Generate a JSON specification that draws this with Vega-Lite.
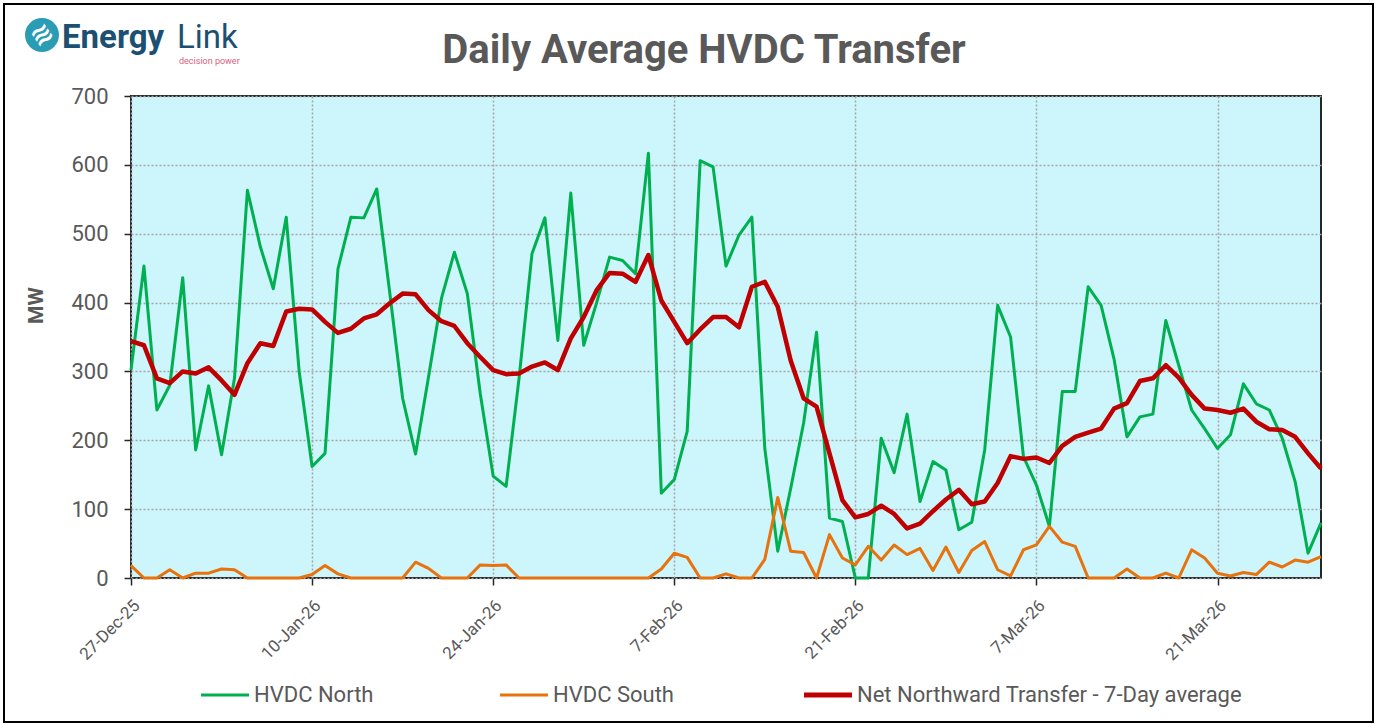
{
  "$schema": "https://vega.github.io/schema/vega-lite/v6.json",
  "width": 1190,
  "height": 482,
  "autosize": {"type": "none"},
  "padding": {"left": 131, "top": 96, "right": 60, "bottom": 146},
  "background": "white",
  "title": {"text": "Daily Average HVDC Transfer", "font": "Roboto", "fontSize": 40, "fontWeight": "bold", "color": "#595959", "anchor": "middle", "frame": "group", "dx": -22, "offset": -68},
  "config": {
    "view": {"fill": "#CCF5FC", "stroke": "#262626", "strokeWidth": 2},
    "font": "Roboto"
  },
  "datasets": {
    "hvdc": [
      {"date": "2025-12-27", "north": 302, "south": 18, "net": 344},
      {"date": "2025-12-28", "north": 453, "south": 0, "net": 338},
      {"date": "2025-12-29", "north": 244, "south": 0, "net": 290},
      {"date": "2025-12-30", "north": 280, "south": 12, "net": 283},
      {"date": "2025-12-31", "north": 436, "south": 0, "net": 300},
      {"date": "2026-01-01", "north": 186, "south": 7, "net": 297},
      {"date": "2026-01-02", "north": 279, "south": 7, "net": 306},
      {"date": "2026-01-03", "north": 179, "south": 13, "net": 287},
      {"date": "2026-01-04", "north": 290, "south": 12, "net": 266},
      {"date": "2026-01-05", "north": 563, "south": 0, "net": 312},
      {"date": "2026-01-06", "north": 481, "south": 0, "net": 341},
      {"date": "2026-01-07", "north": 420, "south": 0, "net": 337},
      {"date": "2026-01-08", "north": 524, "south": 0, "net": 387},
      {"date": "2026-01-09", "north": 300, "south": 0, "net": 391},
      {"date": "2026-01-10", "north": 162, "south": 5, "net": 390},
      {"date": "2026-01-11", "north": 181, "south": 18, "net": 372},
      {"date": "2026-01-12", "north": 449, "south": 6, "net": 356},
      {"date": "2026-01-13", "north": 524, "south": 0, "net": 362},
      {"date": "2026-01-14", "north": 523, "south": 0, "net": 377},
      {"date": "2026-01-15", "north": 565, "south": 0, "net": 383},
      {"date": "2026-01-16", "north": 415, "south": 0, "net": 399},
      {"date": "2026-01-17", "north": 261, "south": 0, "net": 413},
      {"date": "2026-01-18", "north": 180, "south": 23, "net": 412},
      {"date": "2026-01-19", "north": 292, "south": 14, "net": 389},
      {"date": "2026-01-20", "north": 406, "south": 0, "net": 373},
      {"date": "2026-01-21", "north": 473, "south": 0, "net": 366},
      {"date": "2026-01-22", "north": 413, "south": 0, "net": 341},
      {"date": "2026-01-23", "north": 268, "south": 19, "net": 321},
      {"date": "2026-01-24", "north": 148, "south": 18, "net": 302},
      {"date": "2026-01-25", "north": 133, "south": 19, "net": 296},
      {"date": "2026-01-26", "north": 290, "south": 0, "net": 297},
      {"date": "2026-01-27", "north": 471, "south": 0, "net": 307},
      {"date": "2026-01-28", "north": 523, "south": 0, "net": 313},
      {"date": "2026-01-29", "north": 345, "south": 0, "net": 302},
      {"date": "2026-01-30", "north": 559, "south": 0, "net": 348},
      {"date": "2026-01-31", "north": 338, "south": 0, "net": 379},
      {"date": "2026-02-01", "north": 400, "south": 0, "net": 418},
      {"date": "2026-02-02", "north": 466, "south": 0, "net": 443},
      {"date": "2026-02-03", "north": 461, "south": 0, "net": 442},
      {"date": "2026-02-04", "north": 442, "south": 0, "net": 430},
      {"date": "2026-02-05", "north": 617, "south": 0, "net": 469},
      {"date": "2026-02-06", "north": 123, "south": 13, "net": 403},
      {"date": "2026-02-07", "north": 143, "south": 36, "net": 372},
      {"date": "2026-02-08", "north": 213, "south": 30, "net": 341},
      {"date": "2026-02-09", "north": 606, "south": 0, "net": 361},
      {"date": "2026-02-10", "north": 597, "south": 0, "net": 379},
      {"date": "2026-02-11", "north": 453, "south": 6, "net": 379},
      {"date": "2026-02-12", "north": 498, "south": 0, "net": 364},
      {"date": "2026-02-13", "north": 524, "south": 0, "net": 423},
      {"date": "2026-02-14", "north": 188, "south": 27, "net": 430},
      {"date": "2026-02-15", "north": 39, "south": 117, "net": 394},
      {"date": "2026-02-16", "north": 130, "south": 39, "net": 316},
      {"date": "2026-02-17", "north": 225, "south": 37, "net": 261},
      {"date": "2026-02-18", "north": 357, "south": 0, "net": 249},
      {"date": "2026-02-19", "north": 87, "south": 63, "net": 181},
      {"date": "2026-02-20", "north": 82, "south": 29, "net": 113},
      {"date": "2026-02-21", "north": 0, "south": 19, "net": 88},
      {"date": "2026-02-22", "north": 0, "south": 46, "net": 93},
      {"date": "2026-02-23", "north": 203, "south": 26, "net": 105},
      {"date": "2026-02-24", "north": 153, "south": 48, "net": 93},
      {"date": "2026-02-25", "north": 238, "south": 34, "net": 72},
      {"date": "2026-02-26", "north": 111, "south": 43, "net": 79},
      {"date": "2026-02-27", "north": 169, "south": 11, "net": 97},
      {"date": "2026-02-28", "north": 157, "south": 45, "net": 114},
      {"date": "2026-03-01", "north": 70, "south": 8, "net": 128},
      {"date": "2026-03-02", "north": 81, "south": 40, "net": 107},
      {"date": "2026-03-03", "north": 186, "south": 53, "net": 111},
      {"date": "2026-03-04", "north": 396, "south": 12, "net": 138},
      {"date": "2026-03-05", "north": 350, "south": 3, "net": 177},
      {"date": "2026-03-06", "north": 176, "south": 41, "net": 173},
      {"date": "2026-03-07", "north": 135, "south": 48, "net": 175},
      {"date": "2026-03-08", "north": 75, "south": 75, "net": 167},
      {"date": "2026-03-09", "north": 271, "south": 52, "net": 192},
      {"date": "2026-03-10", "north": 271, "south": 46, "net": 205},
      {"date": "2026-03-11", "north": 423, "south": 0, "net": 211},
      {"date": "2026-03-12", "north": 396, "south": 0, "net": 217},
      {"date": "2026-03-13", "north": 318, "south": 0, "net": 246},
      {"date": "2026-03-14", "north": 205, "south": 13, "net": 254},
      {"date": "2026-03-15", "north": 234, "south": 0, "net": 286},
      {"date": "2026-03-16", "north": 238, "south": 0, "net": 290},
      {"date": "2026-03-17", "north": 374, "south": 7, "net": 309},
      {"date": "2026-03-18", "north": 309, "south": 0, "net": 291},
      {"date": "2026-03-19", "north": 244, "south": 41, "net": 266},
      {"date": "2026-03-20", "north": 217, "south": 29, "net": 246},
      {"date": "2026-03-21", "north": 188, "south": 7, "net": 244},
      {"date": "2026-03-22", "north": 208, "south": 3, "net": 240},
      {"date": "2026-03-23", "north": 282, "south": 8, "net": 246},
      {"date": "2026-03-24", "north": 253, "south": 5, "net": 227},
      {"date": "2026-03-25", "north": 244, "south": 23, "net": 216},
      {"date": "2026-03-26", "north": 203, "south": 16, "net": 215},
      {"date": "2026-03-27", "north": 140, "south": 26, "net": 205},
      {"date": "2026-03-28", "north": 36, "south": 23, "net": 181},
      {"date": "2026-03-29", "north": 80, "south": 31, "net": 159}
    ]
  },
  "layer": [
    {
      "data": {"values": [{"logo": "frame"}]},
      "mark": {"type": "rect", "x": -127, "y": -92, "x2": 1242, "y2": 626, "fill": null, "stroke": "#000000", "strokeWidth": 2, "clip": false},
      "encoding": {}
    },
    {
      "data": {"values": [{"logo": "circle"}]},
      "mark": {"type": "point", "shape": "circle", "x": -89, "y": -61, "size": 1156, "filled": true, "color": "#2A9DB5", "opacity": 1, "clip": false},
      "encoding": {}
    },
    {
      "data": {"values": [{"logo": "≋"}]},
      "mark": {"type": "text", "x": -89, "y": -61, "font": "DejaVu Sans", "fontSize": 26, "fontWeight": "bold", "color": "white", "angle": -35, "align": "center", "baseline": "middle", "clip": false},
      "encoding": {"text": {"field": "logo"}}
    },
    {
      "data": {"values": [{"logo": "Energy"}]},
      "mark": {"type": "text", "x": -69, "y": -48, "font": "Roboto", "fontSize": 33, "fontWeight": "bold", "color": "#1C5072", "align": "left", "baseline": "alphabetic", "clip": false},
      "encoding": {"text": {"field": "logo"}}
    },
    {
      "data": {"values": [{"logo": "Link"}]},
      "mark": {"type": "text", "x": 46, "y": -48, "font": "Roboto", "fontSize": 33, "fontWeight": "normal", "color": "#1C5072", "align": "left", "baseline": "alphabetic", "clip": false},
      "encoding": {"text": {"field": "logo"}}
    },
    {
      "data": {"values": [{"logo": "decision power"}]},
      "mark": {"type": "text", "x": 48, "y": -32, "font": "Roboto", "fontSize": 9, "color": "#D9607A", "align": "left", "baseline": "alphabetic", "clip": false},
      "encoding": {"text": {"field": "logo"}}
    },
    {
      "data": {"name": "hvdc"},
      "transform": [{"fold": ["north", "south", "net"], "as": ["series", "MW"]}],
      "encoding": {
        "x": {
          "field": "date",
          "type": "temporal",
          "scale": {"type": "utc", "domain": [{"year": 2025, "month": 12, "date": 27, "utc": true}, {"year": 2026, "month": 3, "date": 29, "utc": true}]},
          "axis": {
            "title": null,
            "values": [
              {"year": 2025, "month": 12, "date": 27, "utc": true},
              {"year": 2026, "month": 1, "date": 10, "utc": true},
              {"year": 2026, "month": 1, "date": 24, "utc": true},
              {"year": 2026, "month": 2, "date": 7, "utc": true},
              {"year": 2026, "month": 2, "date": 21, "utc": true},
              {"year": 2026, "month": 3, "date": 7, "utc": true},
              {"year": 2026, "month": 3, "date": 21, "utc": true}
            ],
            "labelExpr": "utcFormat(datum.value, '%-d-%b-%y')",
            "labelAngle": -45,
            "labelAlign": "right",
            "labelBaseline": "top",
            "labelFont": "Roboto",
            "labelFontSize": 17,
            "labelColor": "#595959",
            "labelPadding": 12,
            "labelOffset": 0,
            "labelOverlap": false,
            "labelFlush": false,
            "tickSize": 7,
            "tickColor": "#262626",
            "tickWidth": 1.5,
            "domain": false,
            "grid": true,
            "gridColor": "#A6A6A6",
            "gridDash": [2, 2],
            "gridWidth": 1.5
          }
        },
        "y": {
          "field": "MW",
          "type": "quantitative",
          "scale": {"domain": [0, 700], "nice": false},
          "axis": {
            "values": [0, 100, 200, 300, 400, 500, 600, 700],
            "title": "MW",
            "titleFont": "Roboto",
            "titleFontSize": 21,
            "titleFontWeight": "bold",
            "titleColor": "#595959",
            "titleAngle": -90,
            "titleAlign": "center",
            "titleBaseline": "middle",
            "titleX": -95,
            "titleY": 209,
            "labelFont": "Roboto",
            "labelFontSize": 22,
            "labelColor": "#595959",
            "labelPadding": 16,
            "tickSize": 7,
            "tickColor": "#262626",
            "tickWidth": 1.5,
            "domain": false,
            "grid": true,
            "gridColor": "#A6A6A6",
            "gridDash": [2, 2],
            "gridWidth": 1.5
          }
        },
        "color": {
          "field": "series",
          "type": "nominal",
          "scale": {"domain": ["north", "south", "net"], "range": ["#00B050", "#E8720C", "#C00000"]},
          "legend": {
            "title": null,
            "orient": "none",
            "legendX": 83,
            "legendY": 588,
            "direction": "horizontal",
            "symbolType": "stroke",
            "symbolSize": 2304,
            "symbolStrokeWidth": 3,
            "labelFont": "Roboto",
            "labelFontSize": 22,
            "labelColor": "#595959",
            "labelOffset": 18,
            "labelLimit": 600,
            "columnPadding": 120,
            "labelExpr": "datum.value == 'north' ? 'HVDC North' : datum.value == 'south' ? 'HVDC South' : 'Net Northward Transfer - 7-Day average'",
            "encode": {"symbols": {"update": {"strokeWidth": {"signal": "datum.value == 'net' ? 5 : 3"}}}}
          }
        }
      },
      "layer": [
        {"transform": [{"filter": "datum.series == 'north'"}], "mark": {"type": "line", "strokeWidth": 3, "strokeJoin": "round"}},
        {"transform": [{"filter": "datum.series == 'south'"}], "mark": {"type": "line", "strokeWidth": 3, "strokeJoin": "round"}},
        {"transform": [{"filter": "datum.series == 'net'"}], "mark": {"type": "line", "strokeWidth": 4.5, "strokeJoin": "round"}}
      ]
    }
  ]
}
